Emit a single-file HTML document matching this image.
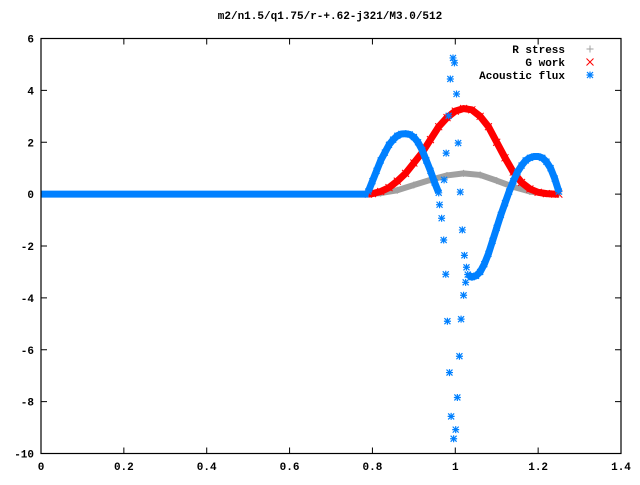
<!DOCTYPE html>
<html><head><meta charset="utf-8"><style>
body{margin:0;background:#fff}
svg text{font-family:"Liberation Mono",monospace;font-size:11px;font-weight:bold;fill:#000}
</style></head><body>
<svg id="chart" width="640" height="480" xmlns="http://www.w3.org/2000/svg">
<text x="330" y="19" text-anchor="middle">m2/n1.5/q1.75/r-+.62-j321/M3.0/512</text>
<g id="axes"></g>
<g id="plot"></g>
<rect x="41" y="38.5" width="580" height="415" fill="none" stroke="#000" stroke-width="1.2"/>
<g id="legend"></g>
</svg>
<script>
const xTicks=[0,0.2,0.4,0.6,0.8,1,1.2,1.4];
const xTickLabels=["0","0.2","0.4","0.6","0.8","1","1.2","1.4"];
const yTicks=[-10,-8,-6,-4,-2,0,2,4,6];
const yTickLabels=["-10","-8","-6","-4","-2","0","2","4","6"];
const zeroRange=[0,0.79];
const rX=[0.79,0.82,0.86,0.90,0.94,0.98,1.02,1.06,1.10,1.14,1.18,1.22,1.25];
const rY=[0,0.04,0.15,0.35,0.55,0.72,0.8,0.74,0.52,0.28,0.1,0.02,0];
const gX=[0.79,0.80,0.82,0.84,0.86,0.88,0.90,0.92,0.94,0.96,0.98,1.00,1.02,1.04,1.06,1.08,1.10,1.12,1.14,1.16,1.18,1.20,1.22,1.24,1.25];
const gY=[0,0.02,0.1,0.25,0.5,0.8,1.2,1.6,2.1,2.6,2.95,3.2,3.3,3.25,3.0,2.6,2.0,1.4,0.85,0.45,0.2,0.07,0.02,0,0];
const aX1=[0.79,0.80,0.81,0.82,0.83,0.84,0.85,0.86,0.87,0.88,0.89,0.90,0.91,0.92,0.93,0.94,0.95,0.96];
const aY1=[0.1,0.5,0.9,1.3,1.6,1.9,2.1,2.25,2.32,2.33,2.3,2.2,2.0,1.7,1.3,0.9,0.45,0.05];
const aX2=[1.03,1.04,1.05,1.06,1.07,1.08,1.09,1.10,1.11,1.12,1.13,1.14,1.15,1.16,1.17,1.18,1.19,1.20,1.21,1.22,1.23,1.24,1.25];
const aY2=[-3.1,-3.2,-3.15,-3.0,-2.7,-2.3,-1.8,-1.3,-0.8,-0.35,0.1,0.5,0.85,1.1,1.3,1.4,1.45,1.45,1.4,1.25,1.0,0.6,0.1];
const aSX=[0.9945,0.998,0.988,1.003,0.984,1.007,0.978,0.973,1.012,0.962,0.967,1.017,0.972,1.022,1.027,0.977,1.025,1.020,0.981,1.014,1.010,0.986,1.005,0.990,1.001,0.996];
const aSY=[5.25,5.06,4.44,3.86,3.02,1.97,1.58,0.55,0.08,-0.41,-0.93,-1.38,-1.77,-2.36,-2.82,-3.09,-3.40,-3.90,-4.90,-4.82,-6.25,-6.88,-7.84,-8.57,-9.08,-9.43];

const NS="http://www.w3.org/2000/svg";
const X0=41,X1=621,Y0=453.5,Y1=38.5;
const sx=v=>X0+v/1.4*(X1-X0);
const sy=v=>Y0-(v+10)/16*(Y0-Y1);
function mk(tag,attrs,parent){const e=document.createElementNS(NS,tag);for(const k in attrs)e.setAttribute(k,attrs[k]);parent.appendChild(e);return e;}
const axes=document.getElementById('axes'),plot=document.getElementById('plot'),leg=document.getElementById('legend');
xTicks.forEach((t,i)=>{
 const l=mk('path',{d:`M${sx(t)},${Y0}v-6M${sx(t)},${Y1}v6`,stroke:'#000'},axes);
 
 
 const tx=mk('text',{x:sx(t),y:470,'text-anchor':'middle'},axes);tx.textContent=xTickLabels[i];
 
 
});
yTicks.forEach((t,i)=>{
 const l=mk('path',{d:`M${X0},${sy(t)}h6M${X1},${sy(t)}h-6`,stroke:'#000'},axes);
 
 
 const tx=mk('text',{x:34,y:sy(t)+4,'text-anchor':'end'},axes);tx.textContent=yTickLabels[i];
 
 
});
function plus(x,y,c,g){mk('path',{d:`M${x-3.5},${y}h7M${x},${y-3.5}v7`,stroke:c,'stroke-width':1},g);}
function cross(x,y,c,g){mk('path',{d:`M${x-3.5},${y-3.5}l7,7M${x-3.5},${y+3.5}l7,-7`,stroke:c,'stroke-width':1},g);}
function star(x,y,c,g){mk('path',{d:`M${x-3.5},${y}h7M${x},${y-3.5}v7M${x-3},${y-3}l6,6M${x-3},${y+3}l6,-6`,stroke:c,'stroke-width':1.2},g);}
function series(xs,ys,c,w,fn,name,line){
 const g=mk('g',{},plot);
 
 
 if(line) mk('polyline',{points:xs.map((x,i)=>sx(x)+','+sy(ys[i])).join(' '),fill:'none',stroke:c,'stroke-width':w,'stroke-linejoin':'round'},g);
 xs.forEach((x,i)=>fn(sx(x),sy(ys[i]),c,g));
}
series(rX,rY,'#a0a0a0',6,plus,'r-stress-series',true);
series(gX,gY,'#ff0000',7,cross,'g-work-series',true);
const z=mk('line',{x1:sx(zeroRange[0]),x2:sx(zeroRange[1]),y1:sy(0),y2:sy(0),stroke:'#0080ff','stroke-width':7},plot);


series(aX1,aY1,'#0080ff',7,star,'acoustic-flux-series-1',true);
series(aX2,aY2,'#0080ff',7,star,'acoustic-flux-series-2',true);
series(aSX,aSY,'#0080ff',0,star,'acoustic-flux-scatter',false);
const legItems=[["R stress",'#a0a0a0',plus],["G work",'#ff0000',cross],["Acoustic flux",'#0080ff',star]];
legItems.forEach((it,i)=>{
 const y=49+i*13;
 const t=mk('text',{x:565,y:y+4,'text-anchor':'end'},leg);t.textContent=it[0];
 
 
 it[2](590,y,it[1],leg);
});
</script>
</body></html>
